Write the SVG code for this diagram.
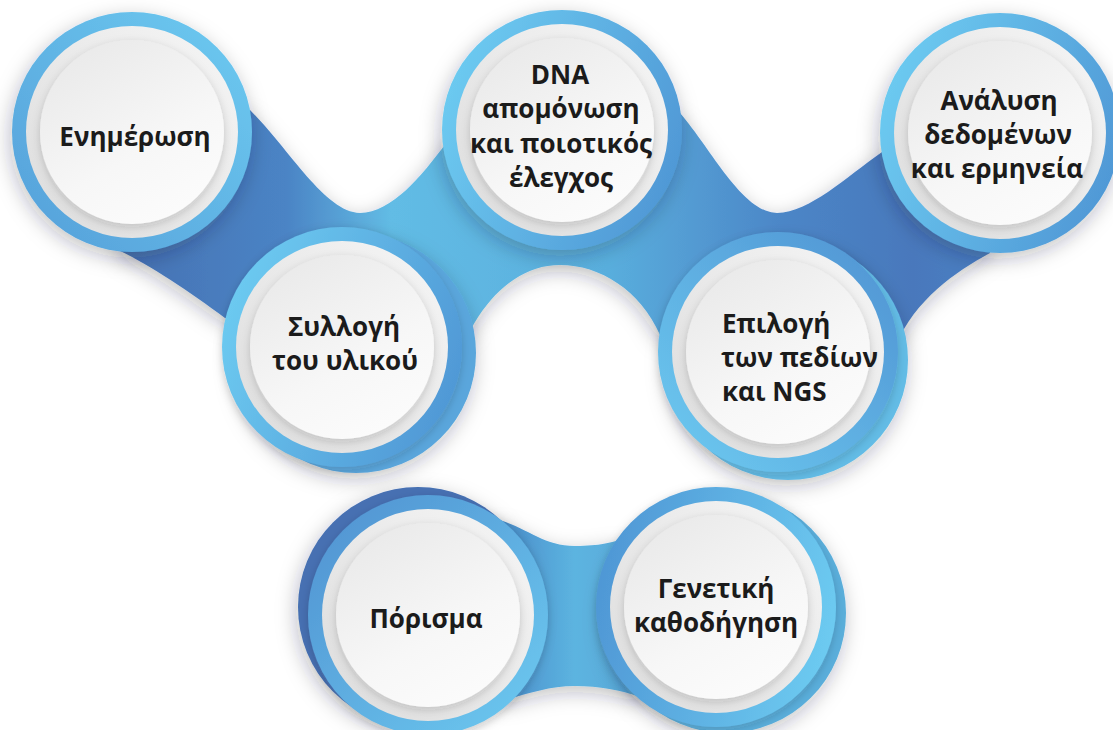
<svg xmlns="http://www.w3.org/2000/svg" width="1113" height="730" viewBox="0 0 1113 730">
<defs>
<style>
.t{font-family:"Open Sans","Noto Sans","Liberation Sans",sans-serif;font-weight:700;font-size:26px;fill:#1b1b1b;text-anchor:middle}
.ts{text-anchor:start}
.grey{fill:url(#greyRing)}
.disc{fill:url(#discFill)}
</style>
<filter id="sh" x="-30%" y="-30%" width="160%" height="160%">
<feDropShadow dx="-2" dy="6" stdDeviation="10" flood-color="#20202a" flood-opacity="0.27"/>
</filter>
<filter id="shs" x="-30%" y="-30%" width="160%" height="160%">
<feDropShadow dx="0" dy="3" stdDeviation="4" flood-color="#20202a" flood-opacity="0.18"/>
</filter>
<linearGradient id="bandTop" gradientUnits="userSpaceOnUse" x1="130" y1="0" x2="1000" y2="0">
<stop offset="0" stop-color="#4572b4"/>
<stop offset="0.18" stop-color="#4b84c5"/>
<stop offset="0.3" stop-color="#62bce5"/>
<stop offset="0.55" stop-color="#59aedd"/>
<stop offset="0.75" stop-color="#4c86c7"/>
<stop offset="0.9" stop-color="#4878bc"/>
<stop offset="1" stop-color="#4a80c4"/>
</linearGradient>
<linearGradient id="bandBot" gradientUnits="userSpaceOnUse" x1="500" y1="0" x2="650" y2="0">
<stop offset="0" stop-color="#4a8dcb"/>
<stop offset="0.5" stop-color="#5cb4e0"/>
<stop offset="1" stop-color="#58a6d8"/>
</linearGradient>
<linearGradient id="gL2R" x1="0" y1="0.3" x2="1" y2="0.7">
<stop offset="0" stop-color="#6dcbf1"/>
<stop offset="1" stop-color="#4f97d5"/>
</linearGradient>
<linearGradient id="gR2L" x1="0" y1="0.4" x2="1" y2="0.6">
<stop offset="0" stop-color="#4f97d5"/>
<stop offset="1" stop-color="#6dcbf1"/>
</linearGradient>
<linearGradient id="gTR" x1="1" y1="0" x2="0" y2="1">
<stop offset="0" stop-color="#6dcbf1"/>
<stop offset="1" stop-color="#559fd9"/>
</linearGradient>
<linearGradient id="gBL" x1="1" y1="0" x2="0" y2="1">
<stop offset="0" stop-color="#4f92d2"/>
<stop offset="1" stop-color="#6dcbf1"/>
</linearGradient>
<linearGradient id="gBR" x1="0" y1="0" x2="1" y2="1">
<stop offset="0" stop-color="#4f90d0"/>
<stop offset="1" stop-color="#6dcbf1"/>
</linearGradient>
<linearGradient id="greyRing" x1="1" y1="0" x2="0" y2="1">
<stop offset="0" stop-color="#f6f6f6"/>
<stop offset="1" stop-color="#dcdcdc"/>
</linearGradient>
<linearGradient id="discFill" x1="0.2" y1="0" x2="0.8" y2="1">
<stop offset="0" stop-color="#e9e9e9"/>
<stop offset="0.6" stop-color="#f7f7f7"/>
<stop offset="1" stop-color="#fcfcfc"/>
</linearGradient>
</defs>
<rect width="1113" height="730" fill="#ffffff"/>

<g id="connectors">
<path filter="url(#sh)" fill="url(#bandTop)" d="M 132,132 L 250,110 C 290,150 325,212 360,213 C 392,212 420,178 447,142 L 562,130 L 680,113 C 712,150 742,212 777,213 C 810,212 845,178 882,152 L 1000,133 L 990,253 C 955,272 915,300 896,345 L 778,352 L 660,335 C 640,290 600,265 560,265 C 520,265 488,295 468,335 L 342,347 L 225,318 C 190,292 150,265 120,251 Z"/>
<path filter="url(#sh)" fill="url(#bandBot)" d="M 428,615 L 500,520 C 530,530 545,546 575,546 C 600,546 612,542 620,540 L 716,607 L 640,697 C 620,690 600,686 575,686 C 550,686 530,693 505,700 Z"/>
</g>

<g id="node-1">
<circle cx="132" cy="132" r="120" fill="url(#gTR)" filter="url(#sh)"/>
<circle cx="132" cy="132" r="106" class="grey"/>
<circle cx="132" cy="132" r="92" class="disc" filter="url(#shs)"/>
<text class="t" x="135" y="146">Ενημέρωση</text>
</g>

<g id="node-2">
<circle cx="356" cy="353" r="120" fill="#5aa6dc" filter="url(#sh)"/>
<circle cx="342" cy="347" r="120" fill="url(#gL2R)" filter="url(#shs)"/>
<circle cx="342" cy="347" r="106" class="grey"/>
<circle cx="342" cy="347" r="92" class="disc" filter="url(#shs)"/>
<text class="t" x="344" y="336">Συλλογή</text>
<text class="t" x="345" y="370">του υλικού</text>
</g>

<g id="node-3">
<circle cx="562" cy="130" r="120" fill="url(#gL2R)" filter="url(#sh)"/>
<circle cx="562" cy="130" r="106" class="grey"/>
<circle cx="562" cy="130" r="92" class="disc" filter="url(#shs)"/>
<text class="t" x="560" y="84">DNA</text>
<text class="t" x="561" y="118">απομόνωση</text>
<text class="t" x="561" y="153">και ποιοτικός</text>
<text class="t" x="561" y="187">έλεγχος</text>
</g>

<g id="node-4">
<circle cx="788" cy="360" r="120" fill="#64bce6" filter="url(#sh)"/>
<circle cx="778" cy="352" r="120" fill="url(#gBL)" filter="url(#shs)"/>
<circle cx="778" cy="352" r="106" class="grey"/>
<circle cx="778" cy="352" r="92" class="disc" filter="url(#shs)"/>
<text class="t ts" x="722" y="333">Επιλογή</text>
<text class="t ts" x="721" y="367">των πεδίων</text>
<text class="t ts" x="722" y="401">και NGS</text>
</g>

<g id="node-5">
<circle cx="1000" cy="133" r="120" fill="url(#gL2R)" filter="url(#sh)"/>
<circle cx="1000" cy="133" r="106" class="grey"/>
<circle cx="1000" cy="133" r="92" class="disc" filter="url(#shs)"/>
<text class="t" x="999" y="110">Ανάλυση</text>
<text class="t" x="998" y="144">δεδομένων</text>
<text class="t" x="997" y="178">και ερμηνεία</text>
</g>

<g id="node-6">
<circle cx="418" cy="607" r="120" fill="#4670b2" filter="url(#sh)"/>
<circle cx="428" cy="615" r="120" fill="url(#gBR)" filter="url(#shs)"/>
<circle cx="428" cy="615" r="106" class="grey"/>
<circle cx="428" cy="615" r="92" class="disc" filter="url(#shs)"/>
<text class="t" x="426" y="628">Πόρισμα</text>
</g>

<g id="node-7">
<circle cx="726" cy="613" r="120" fill="#5aaedb" filter="url(#sh)"/>
<circle cx="716" cy="607" r="120" fill="url(#gR2L)" filter="url(#shs)"/>
<circle cx="716" cy="607" r="106" class="grey"/>
<circle cx="716" cy="607" r="92" class="disc" filter="url(#shs)"/>
<text class="t" x="716" y="598">Γενετική</text>
<text class="t" x="716" y="632">καθοδήγηση</text>
</g>
</svg>
